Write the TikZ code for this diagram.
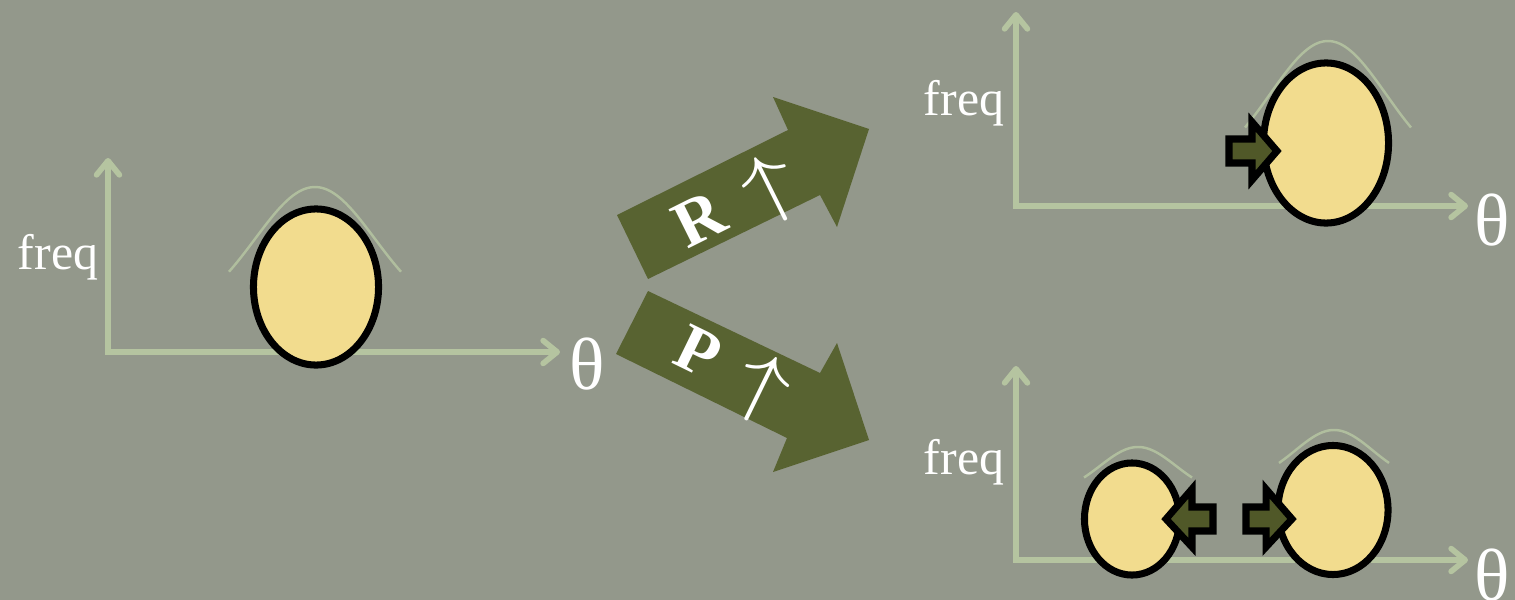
\documentclass[tikz,border=0pt]{standalone}
\usepackage{fontspec}
\setmainfont{Liberation Serif}
\usetikzlibrary{arrows.meta,shapes.geometric}
\definecolor{bg}{RGB}{147,152,139}
\definecolor{axisc}{RGB}{181,196,160}
\definecolor{bellc}{RGB}{176,190,158}
\definecolor{olive}{RGB}{88,99,49}
\definecolor{olivedk}{RGB}{80,88,40}
\definecolor{blob}{RGB}{242,220,142}
\tikzset{
  axisline/.style={draw=axisc, line width=1.6pt, line join=miter,
    {Straight Barb[round,length=4pt,width=6.5pt]}-{Straight Barb[round,length=4pt,width=6.5pt]}},
  bell/.style={draw=bellc, line width=0.7pt},
  blobn/.style={ellipse, draw=black, line width=2pt, fill=blob, inner sep=0pt},
  bigarrow/.style={fill=olive},
  smallarrow/.style={fill=olivedk, draw=black, line width=2pt, line join=miter},
  lbl/.style={text=white, inner sep=0pt, font=\fontsize{14.2pt}{16pt}\selectfont},
  thl/.style={text=white, inner sep=0pt, font=\fontsize{21pt}{24pt}\selectfont},
  arrlbl/.style={text=white, inner sep=0pt, font=\fontsize{19pt}{22pt}\selectfont}
}
\newcommand\bellcurve[5]{%
  \draw[bell] plot[domain=-#2:#2, samples=41, smooth]
    ({#1+\x},{#3+#5-#5*exp(-0.5*(\x/#4)*(\x/#4))});}
\newcommand\bigup{\raisebox{-0.05em}{\scalebox{1.7}[1.3]{$\uparrow$}}}
\begin{document}
\begin{tikzpicture}[x=0.01cm, y=-0.01cm]
\fill[bg] (0,0) rectangle (1515,600);
\useasboundingbox (0,0) rectangle (1515,600);

% ---------- panel 1 ----------
\coordinate (o1) at (108,352);
\coordinate (y1) at (108,158);
\coordinate (x1) at (560,352);
\draw[axisline] (y1) -- (o1) -- (x1);
\node[lbl] (f1) at (58,257) {freq};
\node[thl] (t1) at (587,364) {θ};
\bellcurve{315}{86}{187}{60}{132}
\node[blobn, minimum width=1.25cm, minimum height=1.56cm] (e1) at (316,287) {};

% ---------- big arrows ----------
\fill[bigarrow] (617,215) -- (788,130) -- (773,97) -- (869,129) -- (837,227) -- (820,195) -- (648,279) -- cycle;
\fill[bigarrow] (648,291) -- (820,373) -- (837,343) -- (869,440) -- (773,472) -- (787,438) -- (616,354) -- cycle;
\node[arrlbl, rotate=26.5] (rl) at (737,206) {\textbf{R}\hspace{0.4em}\bigup};
\node[arrlbl, rotate=-26] (pl) at (731,374) {\textbf{P}\hspace{0.4em}\bigup};

% ---------- panel 2 ----------
\coordinate (o2) at (1016,206);
\coordinate (y2) at (1016,12);
\coordinate (x2) at (1468,206);
\draw[axisline] (y2) -- (o2) -- (x2);
\node[lbl] (f2) at (964,103) {freq};
\node[thl] (t2) at (1492,220) {θ};
\bellcurve{1328}{83}{41}{58}{135}
\node[blobn, minimum width=1.25cm, minimum height=1.60cm] (e2) at (1326,143) {};
\draw[smallarrow] (1229,139) -- (1252,139) -- (1252,122) -- (1277,151) -- (1252,180) -- (1252,163) -- (1229,163) -- cycle;

% ---------- panel 3 ----------
\coordinate (o3) at (1016,560);
\coordinate (y3) at (1016,366);
\coordinate (x3) at (1468,560);
\draw[axisline] (y3) -- (o3) -- (x3);
\node[lbl] (f3) at (964,462) {freq};
\node[thl] (t3) at (1492,575) {θ};
\bellcurve{1138}{54}{447}{38}{48}
\bellcurve{1334}{55}{430}{38.5}{51.5}
\node[blobn, minimum width=0.95cm, minimum height=1.12cm] (e3) at (1132,519) {};
\node[blobn, minimum width=1.10cm, minimum height=1.29cm] (e4) at (1333,510) {};
\draw[smallarrow] (1213,507) -- (1192,507) -- (1192,489) -- (1166,519) -- (1192,547) -- (1192,531) -- (1213,531) -- cycle;
\draw[smallarrow] (1246,507) -- (1266,507) -- (1266,489) -- (1292,519) -- (1266,547) -- (1266,531) -- (1246,531) -- cycle;
\end{tikzpicture}
\end{document}
